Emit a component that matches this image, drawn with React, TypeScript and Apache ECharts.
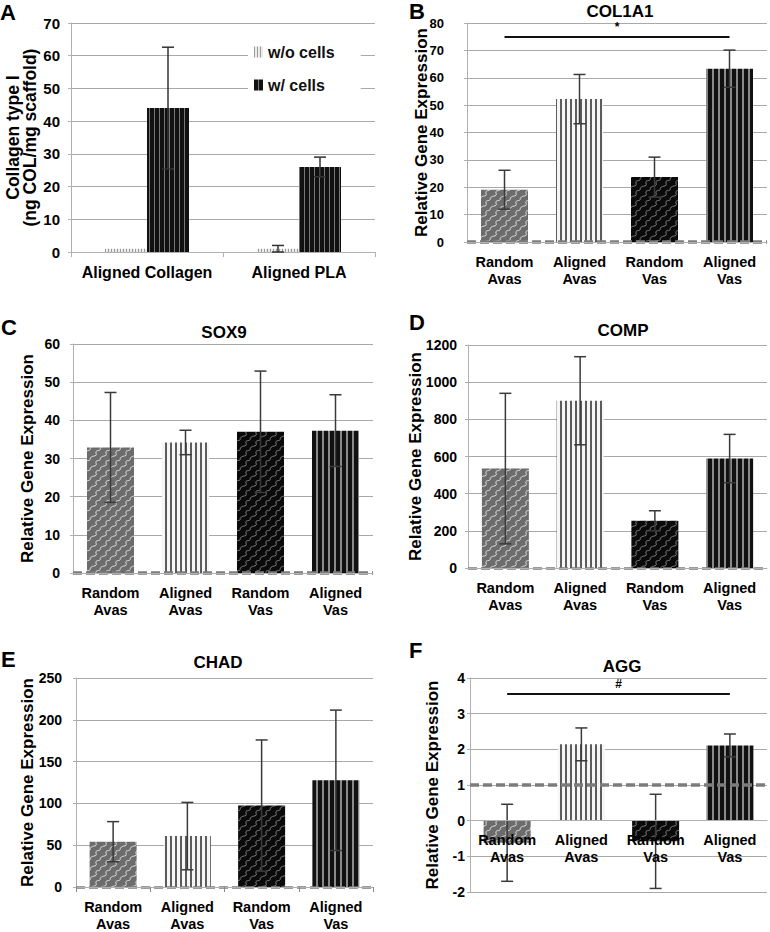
import React, { useEffect, useRef } from 'react';
import * as echarts from 'echarts';

// ---------- data ----------
const geneGroups = ['Random\nAvas', 'Aligned\nAvas', 'Random\nVas', 'Aligned\nVas'];

const aCategories = ['Aligned Collagen', 'Aligned PLA'];
const aSeriesNames = ['w/o cells', 'w/ cells'];
const aWithoutCells = [1.0, 1.0];
const aWithoutCellsErr = [0, 1.0];
const aWithCells = [44.0, 26.0];
const aWithCellsErr = [18.6, 3.0];
const aAxis = [0, 70, 10];

const col1a1 = [19.1, 52.2, 23.7, 63.3];
const col1a1Err = [7.1, 9.0, 7.3, 6.8];
const col1a1Axis = [0, 80, 10];
const col1a1Sig = [0, 3, 75]; // from group, to group, level
const col1a1Mark = '*';

const sox9 = [32.9, 34.2, 37.0, 37.3];
const sox9Err = [14.4, 3.2, 15.9, 9.4];
const sox9Axis = [0, 60, 10];

const comp = [535, 900, 254, 589];
const compErr = [405, 237, 54, 130];
const compAxis = [0, 1200, 200];

const chad = [54.2, 60.9, 97.4, 127.6];
const chadErr = [24, 40.3, 78.5, 84];
const chadAxis = [0, 250, 50];

const agg = [-0.62, 2.14, -0.58, 2.11];
const aggErr = [1.08, 0.46, 1.32, 0.32];
const aggAxis = [-2, 4, 1];
const aggSig = [0, 3, 3.55];
const aggMark = '#';
const aggReference = 1;

const FONT = '"Liberation Sans", Arial, Helvetica, sans-serif';

export default function App() {
  const ref = useRef<HTMLDivElement>(null);

  useEffect(() => {
    const el = ref.current!;
    const chart = echarts.init(el, undefined, { renderer: 'svg' });

    const mk = (w: number, h: number, draw: (c: CanvasRenderingContext2D) => void) => {
      const c = document.createElement('canvas');
      c.width = w;
      c.height = h;
      const ctx = c.getContext('2d')!;
      draw(ctx);
      return c;
    };
    const pat = (c: HTMLCanvasElement) => ({ image: c, repeat: 'repeat' });
    const stripes = (bg: string, fg: string, period: number, lw: number) =>
      pat(
        mk(period, 4, (ctx) => {
          ctx.fillStyle = bg;
          ctx.fillRect(0, 0, period, 4);
          ctx.fillStyle = fg;
          ctx.fillRect(0, 0, lw, 4);
        })
      );
    const waves = (bg: string, fg: string) =>
      pat(
        mk(10, 10, (ctx) => {
          ctx.fillStyle = bg;
          ctx.fillRect(0, 0, 10, 10);
          ctx.strokeStyle = fg;
          ctx.lineWidth = 0.9;
          for (const dx of [-10, 0, 10]) {
            ctx.beginPath();
            ctx.moveTo(dx, 10);
            ctx.bezierCurveTo(dx, 4, dx + 8, 8, dx + 6, 3);
            ctx.bezierCurveTo(dx + 5, 0, dx + 9, 1, dx + 10, 0);
            ctx.stroke();
          }
        })
      );

    const groupFills = [
      waves('#6c6c6c', '#e8e8e8'),
      stripes('#f6f6f6', '#5c5c5c', 5, 2),
      waves('#0a0a0a', '#8a8a8a'),
      stripes('#8a8a8a', '#111111', 6, 4),
    ];
    const aFills = [stripes('#ececec', '#9a9a9a', 3, 1), stripes('#777777', '#111111', 5, 4)];

    const errRender = (offset: number, color: string) => (params: any, api: any) => {
      const x = api.value(0);
      const m = api.value(1);
      const e = api.value(2);
      if (!e) return { type: 'group', children: [] };
      const top = api.coord([x, m + e]);
      const bot = api.coord([x, m - e]);
      const cx = top[0] + offset;
      const st = { stroke: color, lineWidth: 1.5 };
      return {
        type: 'group',
        children: [
          { type: 'line', shape: { x1: cx, y1: top[1], x2: cx, y2: bot[1] }, style: st },
          { type: 'line', shape: { x1: cx - 6, y1: top[1], x2: cx + 6, y2: top[1] }, style: st },
          { type: 'line', shape: { x1: cx - 6, y1: bot[1], x2: cx + 6, y2: bot[1] }, style: st },
        ],
      };
    };

    const gridColor = '#a9a9a9';
    const axisLineColor = '#b0b0b0';
    const plain = (v: number) => String(v);

    const panels = [
      {
        grid: { left: 467, top: 23, width: 300, height: 219 },
        values: col1a1, errs: col1a1Err, axis: col1a1Axis,
        labelMargin: 23, labelSize: 13, nameGap: 37, baseW: 3.5,
        sig: col1a1Sig, mark: col1a1Mark, ref: 0, ticks: false,
      },
      {
        grid: { left: 73, top: 344, width: 300, height: 229 },
        values: sox9, errs: sox9Err, axis: sox9Axis,
        labelMargin: 13, labelSize: 14, nameGap: 37, baseW: 3.5,
        sig: null, mark: '', ref: 0, ticks: false,
      },
      {
        grid: { left: 468, top: 345, width: 299, height: 223 },
        values: comp, errs: compErr, axis: compAxis,
        labelMargin: 11, labelSize: 14, nameGap: 44, baseW: 2.5,
        sig: null, mark: '', ref: 0, ticks: false,
      },
      {
        grid: { left: 76, top: 678, width: 297, height: 212 },
        values: chad, errs: chadErr, axis: chadAxis,
        labelMargin: 14, labelSize: 14, nameGap: 40, baseW: 2.5,
        sig: null, mark: '', ref: 0, ticks: true,
      },
      {
        grid: { left: 470, top: 678, width: 297, height: 214 },
        values: agg, errs: aggErr, axis: aggAxis,
        labelMargin: 5, labelSize: 14, nameGap: 29, baseW: 3.5,
        sig: aggSig, mark: aggMark, ref: aggReference, ticks: false,
      },
    ];

    const grids: any[] = [{ left: 71, top: 23, width: 304, height: 229 }];
    const xAxes: any[] = [
      {
        type: 'category', gridIndex: 0, data: aCategories,
        axisLine: { lineStyle: { color: axisLineColor } },
        axisTick: { show: true, length: 5, lineStyle: { color: axisLineColor } },
        axisLabel: { interval: 0, color: '#000', fontFamily: FONT, fontWeight: 'bold', fontSize: 16, margin: 11, lineHeight: 18 },
      },
    ];
    const yAxes: any[] = [
      {
        type: 'value', gridIndex: 0, min: aAxis[0], max: aAxis[1], interval: aAxis[2],
        name: 'Collagen type I\n(ng COL/mg scaffold)', nameLocation: 'middle', nameGap: 33,
        nameMoveOverlap: false,
        nameTextStyle: { color: '#000', fontFamily: FONT, fontWeight: 'bold', fontSize: 17.5, lineHeight: 17 },
        axisLine: { show: true, lineStyle: { color: axisLineColor } },
        axisTick: { show: true, length: 3, lineStyle: { color: axisLineColor } },
        splitLine: { lineStyle: { color: gridColor } },
        axisLabel: { color: '#000', fontFamily: FONT, fontWeight: 'bold', fontSize: 15, margin: 11, formatter: plain },
      },
    ];
    const series: any[] = [
      {
        type: 'bar', name: aSeriesNames[0], xAxisIndex: 0, yAxisIndex: 0,
        data: aWithoutCells, barWidth: 42, barGap: '0%',
        itemStyle: { color: aFills[0] },
      },
      {
        type: 'bar', name: aSeriesNames[1], xAxisIndex: 0, yAxisIndex: 0,
        data: aWithCells, barWidth: 42, barGap: '0%',
        itemStyle: { color: aFills[1] },
      },
      {
        type: 'custom', xAxisIndex: 0, yAxisIndex: 0, z: 5, silent: true,
        renderItem: errRender(-21, '#333'),
        data: aWithoutCells.map((v, k) => [k, v, aWithoutCellsErr[k]]),
      },
      {
        type: 'custom', xAxisIndex: 0, yAxisIndex: 0, z: 5, silent: true,
        renderItem: errRender(21, '#333'),
        data: aWithCells.map((v, k) => [k, v, aWithCellsErr[k]]),
      },
    ];

    panels.forEach((p, i) => {
      const gi = i + 1;
      grids.push(p.grid);
      const min = p.axis[0];
      const max = p.axis[1];
      // for axes that go below zero, lift the category axis up to the zero line
      const zeroLift = min < 0 ? (p.grid.height * (0 - min)) / (max - min) : 0;
      xAxes.push({
        type: 'category', gridIndex: gi, data: geneGroups, z: 6,
        offset: -zeroLift,
        axisLine: { show: true, onZero: false, lineStyle: { color: axisLineColor } },
        axisTick: { show: p.ticks, length: 5, lineStyle: { color: '#888' } },
        axisLabel: { interval: 0, color: '#000', fontFamily: FONT, fontWeight: 'bold', fontSize: 14.5, margin: 11, lineHeight: 17 },
      });
      yAxes.push({
        type: 'value', gridIndex: gi, min, max, interval: p.axis[2],
        name: 'Relative Gene Expression', nameLocation: 'middle', nameGap: p.nameGap,
        nameMoveOverlap: false,
        nameTextStyle: { color: '#000', fontFamily: FONT, fontWeight: 'bold', fontSize: 17 },
        axisLine: { show: true, lineStyle: { color: axisLineColor } },
        axisTick: { show: true, length: 3, lineStyle: { color: axisLineColor } },
        splitLine: { lineStyle: { color: gridColor } },
        axisLabel: { color: '#000', fontFamily: FONT, fontWeight: 'bold', fontSize: p.labelSize, margin: p.labelMargin, formatter: plain },
      });
      const mlData: any[] = [
        {
          yAxis: p.ref,
          lineStyle: { type: [9, 4], width: p.baseW, color: '#7c7c7c' },
          label: { show: false },
        },
      ];
      if (p.sig) {
        mlData.push([
          {
            coord: [p.sig[0], p.sig[2]],
            lineStyle: { type: 'solid', width: 2, color: '#111' },
            label: {
              show: true, position: 'middle', formatter: p.mark, distance: 4,
              color: '#000', fontFamily: FONT, fontWeight: 'bold', fontSize: 12,
            },
          },
          { coord: [p.sig[1], p.sig[2]] },
        ]);
      }
      series.push({
        type: 'bar', xAxisIndex: gi, yAxisIndex: gi, barWidth: 47,
        data: p.values.map((v, k) => ({ value: v, itemStyle: { color: groupFills[k] } })),
        markLine: { silent: true, symbol: ['none', 'none'], data: mlData, z: 4 },
      });
      series.push({
        type: 'custom', xAxisIndex: gi, yAxisIndex: gi, z: 5, silent: true,
        renderItem: errRender(0, '#3a3a3a'),
        data: p.values.map((v, k) => [k, v, p.errs[k]]),
      });
    });

    const letters = [
      { t: 'A', x: 0, y: 12 },
      { t: 'B', x: 409, y: 11 },
      { t: 'C', x: 1, y: 327 },
      { t: 'D', x: 409, y: 322 },
      { t: 'E', x: 1, y: 659 },
      { t: 'F', x: 409, y: 650 },
    ];
    const titles = [
      { t: 'COL1A1', x: 620, y: 11 },
      { t: 'SOX9', x: 224, y: 332 },
      { t: 'COMP', x: 623, y: 330 },
      { t: 'CHAD', x: 218, y: 662 },
      { t: 'AGG', x: 622, y: 666 },
    ];

    chart.setOption({
      animation: false,
      backgroundColor: '#ffffff',
      textStyle: { fontFamily: FONT },
      grid: grids,
      xAxis: xAxes,
      yAxis: yAxes,
      legend: {
        data: aSeriesNames, orient: 'vertical', left: 248, top: 36,
        padding: [8, 26, 8, 6], itemGap: 17, itemWidth: 9, itemHeight: 11,
        backgroundColor: '#ffffff', selectedMode: false, icon: 'rect',
        textStyle: { fontSize: 16, fontWeight: 'bold', fontFamily: FONT, color: '#111' },
      },
      series,
      graphic: [
        ...letters.map((l) => ({
          type: 'text', x: l.x, y: l.y, z: 10,
          style: { text: l.t, fill: '#000', fontFamily: FONT, fontWeight: 'bold', fontSize: 22, align: 'left', verticalAlign: 'middle' },
        })),
        ...titles.map((l) => ({
          type: 'text', x: l.x, y: l.y, z: 10,
          style: { text: l.t, fill: '#000', fontFamily: FONT, fontWeight: 'bold', fontSize: 17, align: 'center', verticalAlign: 'middle' },
        })),
      ],
    });

    return () => {
      chart.dispose();
    };
  }, []);

  return (
    <div
      ref={ref}
      style={{ position: 'absolute', left: 0, top: 0, width: 770, height: 932, background: '#fff' }}
    />
  );
}
